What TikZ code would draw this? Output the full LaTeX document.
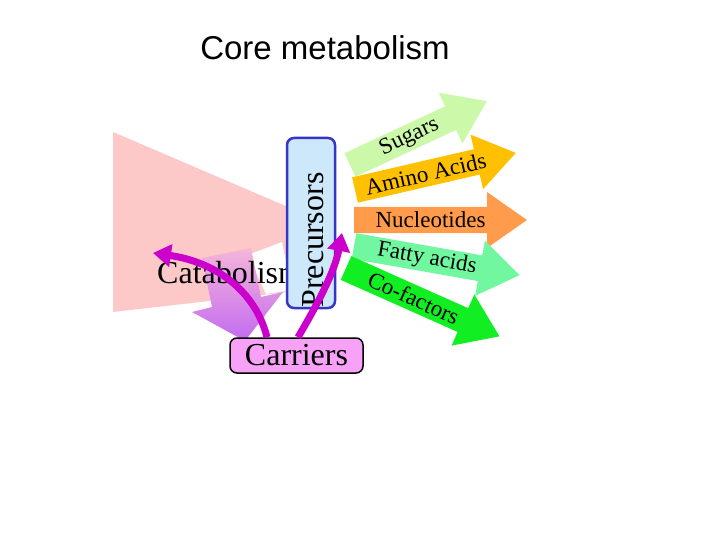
\documentclass[tikz,border=0pt]{standalone}
\usepackage{fontspec}
\setmainfont{Liberation Serif}
\newfontfamily\titlefont{Liberation Sans}
\usepackage{xcolor}
\usetikzlibrary{arrows.meta,positioning}
\definecolor{catpink}{HTML}{FCC8C8}
\definecolor{sugargreen}{HTML}{CCF8AA}
\definecolor{aminogold}{HTML}{FFC000}
\definecolor{nuclorange}{HTML}{FF9B4A}
\definecolor{fattyaqua}{HTML}{70F7A0}
\definecolor{cofgreen}{HTML}{11EE22}
\definecolor{carrmag}{HTML}{CC00CC}
\definecolor{carrfill}{HTML}{F7A2F7}
\definecolor{precfill}{HTML}{CCE8FA}
\definecolor{precline}{HTML}{3535C8}
\definecolor{purptop}{HTML}{F5B5DA}
\definecolor{purpbot}{HTML}{C26BF0}
\tikzset{tempo/.style={}}
\newcommand{\blockarrow}[7]{%
  \begin{scope}[shift={(#3,#4)},rotate=#5,y=1pt]
    \fill[#2] (0,-13) -- (#6-40,-13) -- (#6-40,-28) -- (#6,0) -- (#6-40,28) -- (#6-40,13) -- (0,13) -- cycle;
    \node[prodtext,rotate=#5] (#1) at ({(#6-40)/2+10},0) {#7};
  \end{scope}}

\begin{document}
\begin{tikzpicture}[
  x=1pt,
  y=-1pt,
  bigtext/.style={font=\fontsize{32}{36}\selectfont, inner sep=0pt},
  prodtext/.style={font=\fontsize{23}{26}\selectfont, inner sep=0pt},
  box/.style={rounded corners=7pt, inner sep=0pt},
  curve/.style={draw=carrmag, line width=7pt, -{Triangle[length=18pt,width=22pt]}}
]
\useasboundingbox (0,0) rectangle (720,540);

\node[font=\titlefont\fontsize{33}{38}\selectfont] (title) at (325,48) {Core metabolism};

\fill[catpink] (113,132) -- (288,207) -- (288,292) -- (113,312) -- cycle;
\fill[white] (248,255) -- (282,242) -- (292,290) -- (266,294) -- cycle;
\shade[top color=purptop, bottom color=purpbot]
  (202,258) -- (251,248) -- (261,297) -- (283,292) -- (245,341) -- (192,312) -- (212,307) -- cycle;

\node[bigtext, anchor=base west] (catabolism) at (157,283) {Catabolism};

\node[box, draw=precline, line width=2.5pt, fill=precfill, minimum width=48pt, minimum height=170pt] (precursors) at (311,223) {};
\node[bigtext, rotate=90] (prectext) at (313,240) {Precursors};

\blockarrow{sugars}{sugargreen}{350}{165}{25}{151}{Sugars}
\blockarrow{amino}{aminogold}{355}{190}{13}{165}{Amino Acids}
\blockarrow{nucleotides}{nuclorange}{354}{220}{0}{173}{Nucleotides}
\blockarrow{fatty}{fattyaqua}{354}{246}{-10}{168}{Fatty acids}
\blockarrow{cofactors}{cofgreen}{346}{268}{-24}{168}{Co-factors}

\node[box, draw=black, line width=1.5pt, fill=carrfill, minimum width=133pt, minimum height=35pt] (carriers) at (296.5,355.5) {};
\node[bigtext] (carrtext) at (carriers.center) {Carriers};

\coordinate (catend) at (153,253);
\coordinate (precend) at (342,233);
\draw[curve] ([xshift=-29.5pt]carriers.north) .. controls (255,290) and (215,262) .. (catend);
\draw[curve] ([xshift=1.5pt]carriers.north) .. controls (320,300) and (335,270) .. (precend);
\end{tikzpicture}
\end{document}
